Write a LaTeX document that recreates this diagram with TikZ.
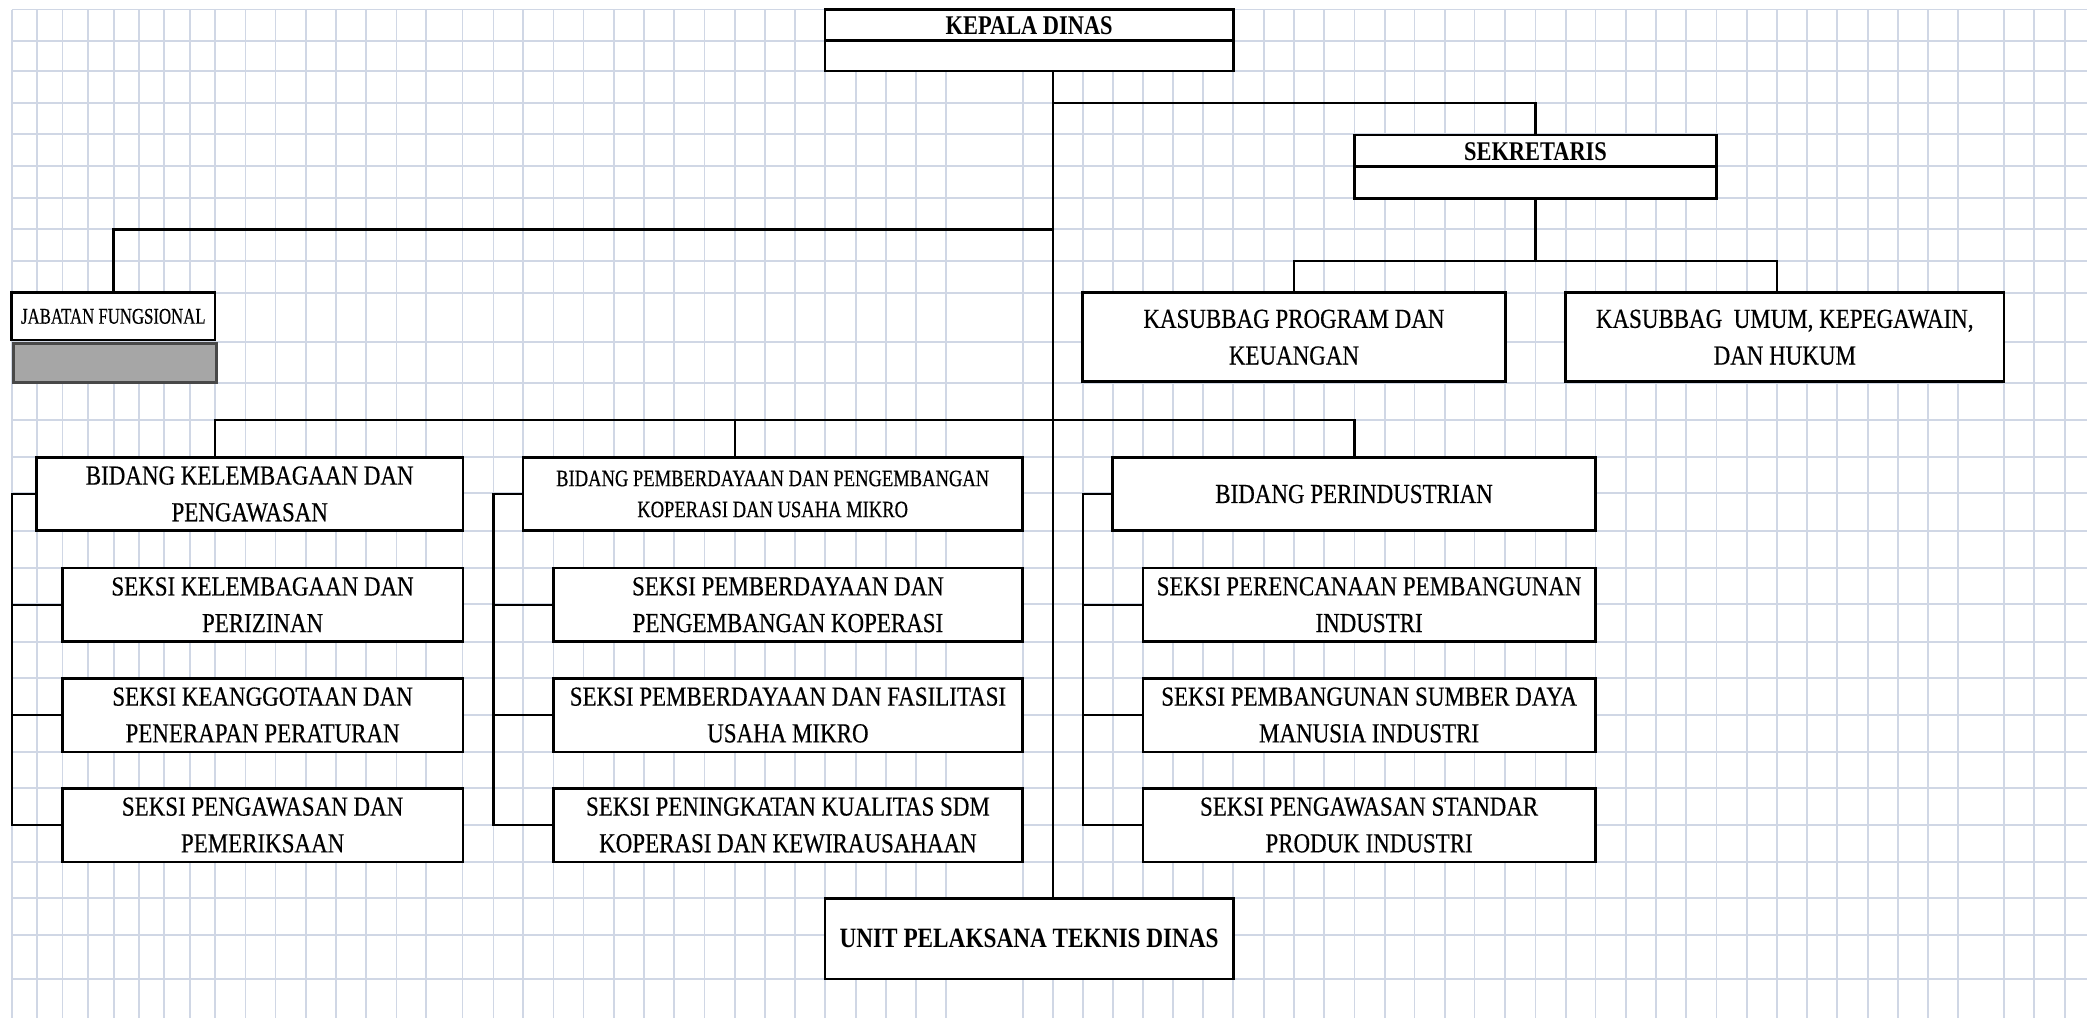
\documentclass[tikz,border=0pt]{standalone}
\usepackage{fontspec}
\newfontfamily\fR[FakeStretch=0.835,FakeBold=0.4]{Liberation Serif}
\newfontfamily\fBd[FakeStretch=0.83]{Liberation Serif}
\newfontfamily\fS[FakeStretch=0.79,FakeBold=0.4]{Liberation Serif}
\newfontfamily\fJ[FakeStretch=0.745,FakeBold=0.4]{Liberation Serif}
\definecolor{gridc}{RGB}{208,215,229}
\definecolor{greyfill}{RGB}{166,166,166}
\definecolor{greyedge}{RGB}{72,72,72}
\begin{document}
\begin{tikzpicture}[x=1pt,y=-1pt,
  box/.style={draw=black, fill=white, line width=2.6pt, inner sep=0pt, outer sep=0pt, align=center,
    anchor=center, font=\fR\fontsize{27.5}{36.7}\selectfont},
  bidw/.style={minimum width=426.1pt, minimum height=73.4pt},
  s1w/.style={minimum width=400.4pt, minimum height=73.6pt},
  s2w/.style={minimum width=469.1pt, minimum height=73.6pt},
  s3w/.style={minimum width=452.6pt, minimum height=73.6pt},
  boldtxt/.style={inner sep=0pt, font=\fBd\bfseries\fontsize{27}{33}\selectfont},
  divider/.style={draw=black, line width=2.6pt},
  conn/.style={draw=black, line width=2.4pt, line cap=rect, line join=miter},
  gridl/.style={draw=gridc, line width=1.8pt}]
\fill[white] (0,0) rectangle (2087,1018);
\useasboundingbox (0,0) rectangle (2087,1018);
% spreadsheet grid
\foreach \x in {11.7,37,62.5,88,114,139,164,190,215,245.5,275.4,305.8,335.7,366,396.4,426.3,462.5,493.5,523,553.4,583.5,613.8,643.8,674,704.5,734.8,765,795,825,855.7,886,916,946,1022.6,1052.7,1082.7,1112.7,1142.8,1173.3,1203.3,1233.3,1263.6,1293.8,1324,1354.5,1385,1414.5,1444.7,1474.5,1505.2,1535.4,1565.6,1595.4,1625.7,1655.9,1685.7,1716.4,1746.6,1776.9,1807.1,1837.3,1867.6,1897.8,1928,1957.8,2003.9,2034,2065.2}
  \draw[gridl] (\x,9.5) -- (\x,1018);
\foreach \y in {9.5,40.7,71,102.7,134.3,166,197.7,229.3,261,292.7,341.7,383,420,457.3,493.3,530.7,567.7,604.3,641.7,678.3,715,751.7,788.3,825,861.7,898.3,935,979}
  \draw[gridl] (11.7,\y) -- (2087,\y);

% top boxes
\node[box, minimum width=408.3pt, minimum height=61.5pt] (kd) at (1029.15,40.25) {};
\draw[divider] (kd.west |- 0,40.7) -- (kd.east |- 0,40.7);
\node[boldtxt] (kdt) at (1029.2,25.3) {KEPALA DINAS};

\node[box, minimum width=362.1pt, minimum height=63.3pt] (sek) at (1535.45,166.65) {};
\draw[divider] (sek.west |- 0,166.7) -- (sek.east |- 0,166.7);
\node[boldtxt] (sekt) at (1535.5,151.3) {SEKRETARIS};

\node[box, font=\fJ\fontsize{22.5}{28}\selectfont, minimum width=203.3pt, minimum height=47.3pt] (jab) at (113.35,316.35) {JABATAN FUNGSIONAL};
\node[draw=greyedge, fill=greyfill, line width=3pt, inner sep=0pt, minimum width=203pt, minimum height=38.5pt] (jabg) at (114.5,362.75) {};

\node[box, minimum width=422.5pt, minimum height=89pt] (ksb1) at (1293.95,337.2) {KASUBBAG PROGRAM DAN\\KEUANGAN};
\node[box, minimum width=438.4pt, minimum height=89pt] (ksb2) at (1784.8,337.2) {KASUBBAG\ \ UMUM, KEPEGAWAIN,\\DAN HUKUM};

% group 1
\node[box, bidw] (b1) at (249.75,494) {BIDANG KELEMBAGAAN DAN\\PENGAWASAN};
\node[box, s1w] (s11) at (262.6,604.7) {SEKSI KELEMBAGAAN DAN\\PERIZINAN};
\node[box, s1w] (s12) at (262.6,715) {SEKSI KEANGGOTAAN DAN\\PENERAPAN PERATURAN};
\node[box, s1w] (s13) at (262.6,825) {SEKSI PENGAWASAN DAN\\PEMERIKSAAN};

% group 2
\node[box, font=\fS\fontsize{23.5}{31}\selectfont, minimum width=499.6pt, minimum height=73.4pt] (b2) at (772.7,494) {BIDANG PEMBERDAYAAN DAN PENGEMBANGAN\\KOPERASI DAN USAHA MIKRO};
\node[box, s2w] (s21) at (787.95,604.7) {SEKSI PEMBERDAYAAN DAN\\PENGEMBANGAN KOPERASI};
\node[box, s2w] (s22) at (787.95,715) {SEKSI PEMBERDAYAAN DAN FASILITASI\\USAHA MIKRO};
\node[box, s2w] (s23) at (787.95,825) {SEKSI PENINGKATAN KUALITAS SDM\\KOPERASI DAN KEWIRAUSAHAAN};

% group 3
\node[box, minimum width=482.7pt, minimum height=73.4pt] (b3) at (1354.05,494) {BIDANG PERINDUSTRIAN};
\node[box, s3w] (s31) at (1369.1,604.7) {SEKSI PERENCANAAN PEMBANGUNAN\\INDUSTRI};
\node[box, s3w] (s32) at (1369.1,715) {SEKSI PEMBANGUNAN SUMBER DAYA\\MANUSIA INDUSTRI};
\node[box, s3w] (s33) at (1369.1,825) {SEKSI PENGAWASAN STANDAR\\PRODUK INDUSTRI};

% UPT
\node[box, font=\fBd\bfseries\fontsize{28}{34}\selectfont, minimum width=408.3pt, minimum height=80.7pt] (upt) at (1029.15,938.65) {UNIT PELAKSANA TEKNIS DINAS};

% connectors
\coordinate (mx) at (1052.7,0);
\draw[conn] (kd.south -| mx) -- (upt.north -| mx);
\coordinate (jS) at (1052.7,102.7);
\draw[conn] (jS) -| (sek.north);
\coordinate (jJ) at (1052.7,229.3);
\draw[conn] (jJ) -| (jab.north);
\coordinate (kL) at (1293.8,261);
\coordinate (kR) at (1776.9,261);
\draw[conn] (sek.south) -- (sek.south |- kL);
\draw[conn] (kL |- ksb1.north) -- (kL) -- (kR) -- (kR |- ksb2.north);
\coordinate (bL) at (215,420);
\coordinate (bM) at (734.8,420);
\coordinate (bR) at (1354.5,420);
\draw[conn] (bL |- b1.north) -- (bL) -- (bR) -- (bR |- b3.north);
\draw[conn] (bM) -- (bM |- b2.north);

\coordinate (g1) at (11.7,0);
\draw[conn] (b1.west) -- (b1.west -| g1) -- (s13.west -| g1) -- (s13.west);
\draw[conn] (s11.west -| g1) -- (s11.west);
\draw[conn] (s12.west -| g1) -- (s12.west);

\coordinate (g2) at (493.5,0);
\draw[conn] (b2.west) -- (b2.west -| g2) -- (s23.west -| g2) -- (s23.west);
\draw[conn] (s21.west -| g2) -- (s21.west);
\draw[conn] (s22.west -| g2) -- (s22.west);

\coordinate (g3) at (1082.9,0);
\draw[conn] (b3.west) -- (b3.west -| g3) -- (s33.west -| g3) -- (s33.west);
\draw[conn] (s31.west -| g3) -- (s31.west);
\draw[conn] (s32.west -| g3) -- (s32.west);
\end{tikzpicture}
\end{document}
